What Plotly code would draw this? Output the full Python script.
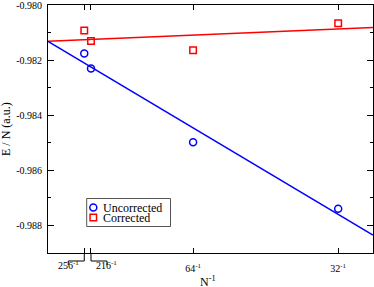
import plotly.graph_objects as go

# ---- data ----
N_values = [256, 216, 64, 32]
inv_N = [1.0 / n for n in N_values]
uncorrected = [-0.98175, -0.98230, -0.98498, -0.98739]
corrected = [-0.98092, -0.98130, -0.98163, -0.98065]

fit_x = [0.0, 0.035]
uncorrected_fit = [-0.98131, -0.98835]
corrected_fit = [-0.98131, -0.98081]

series_names = ["Uncorrected", "Corrected"]
x_tick_labels = ["", "", "64<sup>-1</sup>", "32<sup>-1</sup>"]
offset_labels = ["256<sup>-1</sup>", "216<sup>-1</sup>"]
y_tick_vals = [-0.980, -0.982, -0.984, -0.986, -0.988]
y_tick_labels = ["-0.980", "-0.982", "-0.984", "-0.986", "-0.988"]

BLUE = "#0000ff"
RED = "#ff0000"
FONT = "Liberation Serif, Times New Roman, Times, serif"

W, H = 374, 287
ML, MR, MT, MB = 48, 1, 5, 34
PW = W - ML - MR
PH = H - MT - MB
X_RANGE = [0.0, 0.035]
Y_RANGE = [-0.989, -0.97999]


def dx(px):
    return px * (X_RANGE[1] - X_RANGE[0]) / PW


def px_x(px):  # absolute pixel column -> paper x
    return (px - ML) / PW


def px_y(py):  # absolute pixel row -> paper y
    return (MT + PH - py) / PH


fig = go.Figure()

fig.add_trace(go.Scatter(x=fit_x, y=corrected_fit, mode="lines",
                         line=dict(color=RED, width=1.5), showlegend=False,
                         hoverinfo="skip"))
fig.add_trace(go.Scatter(x=fit_x, y=uncorrected_fit, mode="lines",
                         line=dict(color=BLUE, width=1.5), showlegend=False,
                         hoverinfo="skip"))
fig.add_trace(go.Scatter(x=inv_N, y=uncorrected, mode="markers", name=series_names[0],
                         showlegend=False,
                         marker=dict(symbol="circle-open", size=7, color=BLUE,
                                     line=dict(width=1.5, color=BLUE))))
fig.add_trace(go.Scatter(x=inv_N, y=corrected, mode="markers", name=series_names[1],
                         showlegend=False,
                         marker=dict(symbol="square-open", size=6.5, color=RED,
                                     line=dict(width=1.5, color=RED))))

# ---- hand-made compact legend (overlay axis measured in plot pixels) ----
legend_left, legend_right, legend_top, legend_bottom = 86.7, 170.5, 198.5, 226.5
legend_rows = [207.5, 217.5]
legend_marker_x = 93.3
legend_text_x = 100.5
fig.add_trace(go.Scatter(
    x=[legend_marker_x - ML], y=[MT + PH - legend_rows[0]], xaxis="x2", yaxis="y2",
    mode="markers", showlegend=False, hoverinfo="skip",
    marker=dict(symbol="circle-open", size=7, color=BLUE, line=dict(width=1.5, color=BLUE))))
fig.add_trace(go.Scatter(
    x=[legend_marker_x - ML], y=[MT + PH - legend_rows[1]], xaxis="x2", yaxis="y2",
    mode="markers", showlegend=False, hoverinfo="skip",
    marker=dict(symbol="square-open", size=6.5, color=RED, line=dict(width=1.5, color=RED))))

shapes = [dict(type="rect", xref="paper", yref="paper",
               x0=px_x(legend_left), x1=px_x(legend_right),
               y0=px_y(legend_bottom), y1=px_y(legend_top),
               line=dict(color="#555555", width=1), fillcolor="white", layer="below")]

annotations = []
for name, row in zip(series_names, legend_rows):
    annotations.append(dict(x=px_x(legend_text_x), y=px_y(row), xref="paper", yref="paper",
                            text=name, showarrow=False, xanchor="left", yanchor="middle",
                            font=dict(family=FONT, size=12, color="black")))

# brackets under the two crowded ticks
for i, direction in ((0, -1), (1, 1)):
    xv = inv_N[i]
    xo = xv + direction * dx(16)
    line = dict(color="black", width=1)
    shapes.append(dict(type="line", xref="x", yref="paper", x0=xv, x1=xv,
                       y0=0, y1=px_y(261), line=line))
    shapes.append(dict(type="line", xref="x", yref="paper", x0=xv, x1=xo,
                       y0=px_y(261), y1=px_y(261), line=line))
    shapes.append(dict(type="line", xref="x", yref="paper", x0=xo, x1=xo,
                       y0=px_y(261), y1=px_y(265), line=line))
    annotations.append(dict(x=xo, y=px_y(257), xref="x", yref="paper",
                            text=offset_labels[i], showarrow=False,
                            xanchor="center", yanchor="top",
                            font=dict(family=FONT, size=10, color="black")))

# axis titles
annotations.append(dict(x=px_x(208), y=px_y(281.5), xref="paper", yref="paper",
                        text="N<sup>-1</sup>", showarrow=False,
                        xanchor="center", yanchor="middle",
                        font=dict(family=FONT, size=12, color="black")))
annotations.append(dict(x=px_x(6), y=0.5, xref="paper", yref="paper",
                        text="E / N (a.u.)", showarrow=False, textangle=-90,
                        xanchor="center", yanchor="middle",
                        font=dict(family=FONT, size=12, color="black")))

fig.update_layout(
    width=W, height=H,
    margin=dict(l=ML, r=MR, t=MT, b=MB, autoexpand=False),
    paper_bgcolor="white", plot_bgcolor="white",
    font=dict(family=FONT, size=10, color="black"),
    shapes=shapes, annotations=annotations,
    showlegend=False,
    xaxis2=dict(overlaying="x", range=[0, PW], visible=False, fixedrange=True),
    yaxis2=dict(overlaying="y", range=[0, PH], visible=False, fixedrange=True),
)

fig.update_layout(xaxis=dict(
    range=X_RANGE, tickvals=inv_N, ticktext=x_tick_labels, automargin=False,
    ticks="inside", ticklen=5, tickcolor="black", tickwidth=1,
    showline=True, linecolor="black", linewidth=1, mirror="ticks",
    showgrid=False, zeroline=False, ticklabelstandoff=6,
    ticklabeloverflow="allow",
    tickfont=dict(family=FONT, size=10)))
fig.update_layout(yaxis=dict(
    range=Y_RANGE, tickvals=y_tick_vals, ticktext=y_tick_labels, automargin=False,
    ticks="inside", ticklen=6, tickcolor="black", tickwidth=1,
    minor=dict(dtick=0.001, tick0=-0.980, ticks="inside", ticklen=3,
               tickcolor="black", showgrid=False),
    showline=True, linecolor="black", linewidth=1, mirror="ticks",
    showgrid=False, zeroline=False, ticklabelstandoff=3,
    ticklabeloverflow="allow",
    tickfont=dict(family=FONT, size=10)))

fig.write_html("out.html", config={"displayModeBar": False},
               post_script="document.body.style.margin='0';document.body.style.overflow='hidden';")
